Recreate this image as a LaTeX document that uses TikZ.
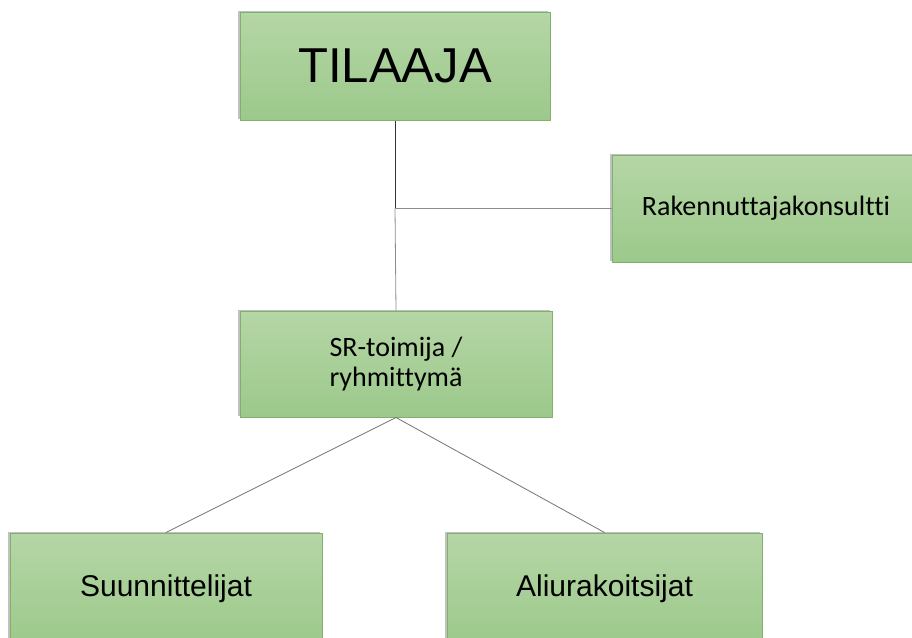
\documentclass[tikz,border=0pt]{standalone}
\usepackage{fontspec}
\setmainfont{Liberation Sans}
\newfontfamily\calibrifont[Ligatures=NoCommon]{Carlito}
\usetikzlibrary{shadows}
\definecolor{boxtop}{RGB}{181,214,166}
\definecolor{boxbot}{RGB}{156,201,139}
\definecolor{boxline}{RGB}{128,176,108}
\begin{document}
\begin{tikzpicture}[x=1pt,y=-1pt,every node/.style={inner sep=0pt}]
\tikzstyle{orgbox}=[draw=boxline,line width=1pt,top color=boxtop,bottom color=boxbot,
  drop shadow={shadow xshift=-2pt,shadow yshift=1pt,opacity=0.35,fill=black!70},align=center]
\tikzstyle{link}=[draw,black!45,line width=0.8pt]
\useasboundingbox (0,0) rectangle (912,637);
\node[orgbox,minimum width=310pt,minimum height=108pt,font=\fontsize{49}{55}\selectfont](n00) at (395,66){TILAAJA};
\node[orgbox,minimum width=308pt,minimum height=107pt,font=\calibrifont\fontsize{28}{31}\selectfont](n01) at (766,208.5){Rakennuttajakonsultti};

\node[orgbox,minimum width=312pt,minimum height=106pt,font=\calibrifont\fontsize{28}{30}\selectfont](n10) at (396,364){SR-toimija /\\ryhmittymä};

\node[orgbox,minimum width=312pt,minimum height=112pt,font=\fontsize{30}{34}\selectfont](n20) at (166,589){Suunnittelijat};
\node[orgbox,minimum width=315pt,minimum height=112pt,font=\fontsize{30}{34}\selectfont](n21) at (604.5,589){Aliurakoitsijat};

\coordinate (j0) at (n00.south |- n01.west);
\path[draw,black!80,line width=0.8pt](n00.south)--(j0);
\path[link](j0)--(n10.north);
\path[link](j0)--(n01.west);

\path[link,black!55](n10.south)--(n20.north);
\path[link,black!55](n10.south)--(n21.north);
\end{tikzpicture}
\end{document}
